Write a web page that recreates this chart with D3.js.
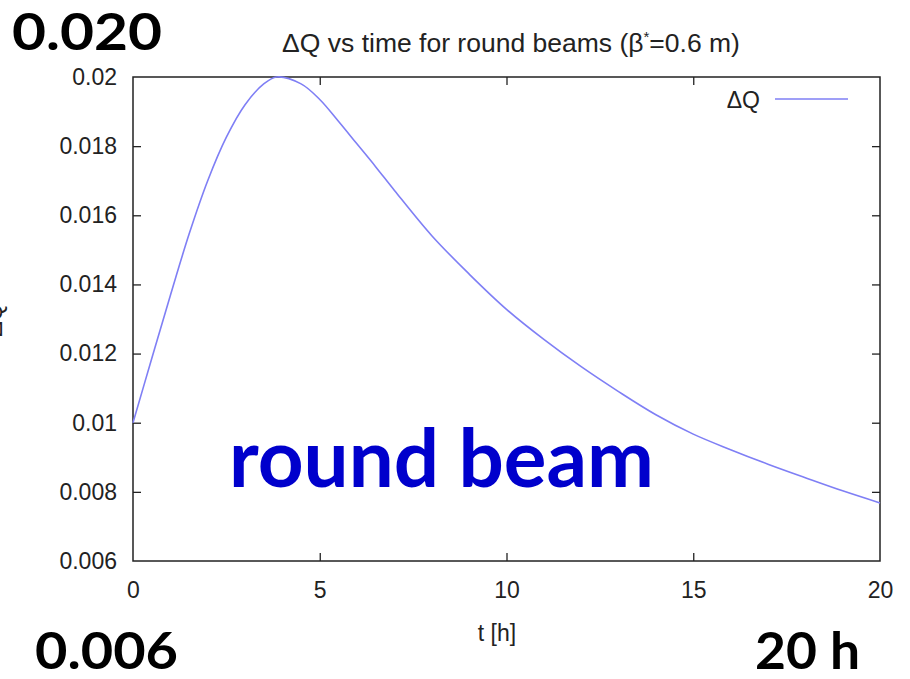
<!DOCTYPE html>
<html>
<head>
<meta charset="utf-8">
<script src="https://cdn.jsdelivr.net/npm/d3@7"></script>
<style>
  html, body { margin: 0; padding: 0; background: #fff; }
  svg { display: block; }
</style>
</head>
<body>
<svg id="chart" width="910" height="679"></svg>
<script>
// ---- data ----
const timeHours = [0, 0.5, 1, 1.5, 2, 2.5, 3, 3.5, 3.85, 4.5, 5, 5.5, 6, 6.5, 7, 8, 9, 10, 11, 12, 13, 14, 15, 16, 17, 18, 19, 20];
const deltaQ = [0.0100, 0.01185, 0.01368, 0.01545, 0.01700, 0.01826, 0.01920, 0.01980, 0.02000, 0.01980, 0.01935, 0.01872, 0.01806, 0.01740, 0.01672, 0.01541, 0.01430, 0.01328, 0.01241, 0.01162, 0.01090, 0.01023, 0.00967, 0.00922, 0.00880, 0.00841, 0.00803, 0.00768];
const xTicks = [0, 5, 10, 15, 20];
const yTicks = [0.006, 0.008, 0.01, 0.012, 0.014, 0.016, 0.018, 0.02];
const yTickLabels = ["0.006", "0.008", "0.01", "0.012", "0.014", "0.016", "0.018", "0.02"];
const titleText = "ΔQ vs time for round beams (β";
const seriesName = "ΔQ";

const svg = d3.select("#chart");
const pL = 133, pR = 880, pT = 77, pB = 561;

const x = d3.scaleLinear().domain([0, 20]).range([pL, pR]);
const y = d3.scaleLinear().domain([0.006, 0.02]).range([pB, pT]);

const tickFont = "'Liberation Sans', Arial, sans-serif";
const axisColor = "#222";
const fs = "23px";

// frame
svg.append("rect")
  .attr("x", pL).attr("y", pT)
  .attr("width", pR - pL).attr("height", pB - pT)
  .attr("fill", "none").attr("stroke", axisColor).attr("stroke-width", 1.5);

// axes via d3 (inward ticks), mirrored
const tickLen = 8;
function styleAxis(g) {
  g.select(".domain").remove();
  g.selectAll(".tick line").attr("stroke", axisColor).attr("stroke-width", 1.3);
  g.selectAll(".tick text").attr("fill", "#222").style("font-family", tickFont).style("font-size", fs);
}
const xAxis = d3.axisBottom(x).tickValues(xTicks).tickSizeInner(-tickLen).tickSizeOuter(0).tickPadding(21);
svg.append("g").attr("transform", `translate(0,${pB})`).call(xAxis).call(styleAxis)
  .selectAll(".tick").filter(d => d === 0 || d === 20).select("line").remove();
const xAxisTop = d3.axisTop(x).tickValues(xTicks.filter(d => d > 0 && d < 20)).tickSizeInner(-tickLen).tickSizeOuter(0).tickFormat("");
svg.append("g").attr("transform", `translate(0,${pT})`).call(xAxisTop).call(styleAxis);

const yAxis = d3.axisLeft(y).tickValues(yTicks).tickSizeInner(-tickLen).tickSizeOuter(0).tickPadding(16)
  .tickFormat((d, i) => yTickLabels[i]);
svg.append("g").attr("transform", `translate(${pL},0)`).call(yAxis).call(styleAxis)
  .selectAll(".tick").filter(d => d === 0.006 || d === 0.02).select("line").remove();
const yAxisRight = d3.axisRight(y).tickValues(yTicks.filter(d => d > 0.006 && d < 0.02)).tickSizeInner(-tickLen).tickSizeOuter(0).tickFormat("");
svg.append("g").attr("transform", `translate(${pR},0)`).call(yAxisRight).call(styleAxis);

// curve
const lineColor = "#7f7ff5";
const line = d3.line().x((d, i) => x(timeHours[i])).y(d => y(d)).curve(d3.curveCatmullRom.alpha(0.5));
svg.append("path").datum(deltaQ)
  .attr("d", line).attr("fill", "none")
  .attr("stroke", lineColor).attr("stroke-width", 1.6);

// title
const title = svg.append("text").attr("x", 511).attr("y", 52).attr("text-anchor", "middle")
  .attr("fill", "#222").style("font-family", tickFont).style("font-size", "26.5px");
title.append("tspan").text(titleText);
title.append("tspan").attr("dy", -10).style("font-size", "15px").text("*");
title.append("tspan").attr("dy", 10).text("=0.6 m)");

// x label
svg.append("text").attr("x", 497).attr("y", 641).attr("text-anchor", "middle")
  .attr("fill", "#222").style("font-family", tickFont).style("font-size", fs).text("t [h]");

// y label (mostly cut off at the left edge, as in the source)
svg.append("text").attr("transform", "translate(2,320) rotate(-90)").attr("text-anchor", "middle")
  .attr("fill", "#222").style("font-family", tickFont).style("font-size", fs).text(seriesName);

// legend
svg.append("text").attr("x", 760).attr("y", 108).attr("text-anchor", "end")
  .attr("fill", "#222").style("font-family", tickFont).style("font-size", fs).text(seriesName);
svg.append("line").attr("x1", 775).attr("x2", 848).attr("y1", 99).attr("y2", 99)
  .attr("stroke", lineColor).attr("stroke-width", 1.6);

// annotations
const bigFont = "Lato, 'Open Sans', sans-serif";
function big(txt, xx, yy, len) {
  svg.append("text").attr("x", xx).attr("y", yy)
    .attr("fill", "#000").style("font-family", bigFont).style("font-weight", "bold")
    .style("font-size", "52px").attr("textLength", len).attr("lengthAdjust", "spacingAndGlyphs").text(txt);
}
big("0.020", 12, 50, 150);
big("0.006", 35, 669, 143);
big("20 h", 755, 669, 105);

svg.append("text").attr("x", 229).attr("y", 487)
  .attr("fill", "#0000cc").style("font-family", bigFont).style("font-weight", "bold")
  .style("font-size", "80px").attr("textLength", 425).attr("lengthAdjust", "spacingAndGlyphs").text("round beam");
</script>
</body>
</html>
